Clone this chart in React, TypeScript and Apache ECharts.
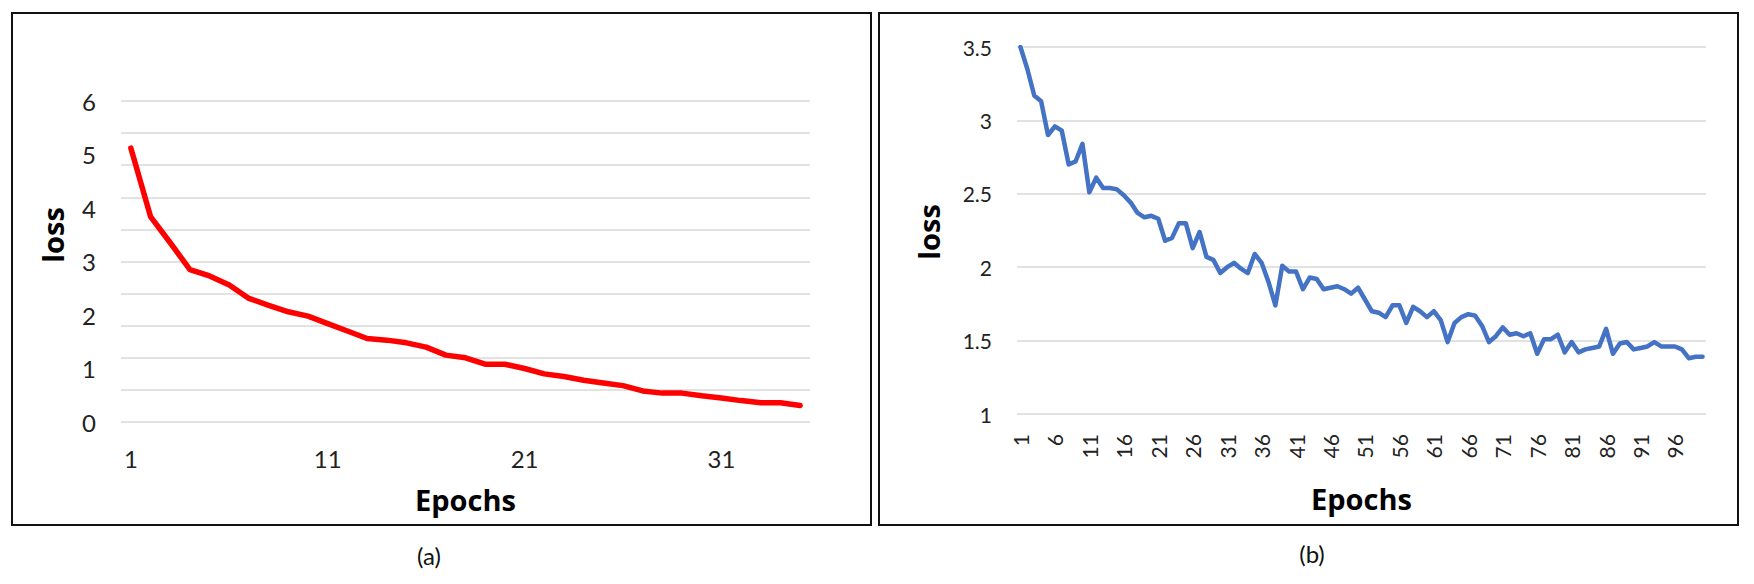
import React, { useEffect, useRef } from "react";
import * as echarts from "echarts";

const epochsA: string[] = Array.from({ length: 35 }, (_, i) => String(i + 1));
const lossA: number[] = [
  5.12, 3.84, 3.35, 2.85, 2.73, 2.56, 2.31, 2.18, 2.06, 1.98,
  1.84, 1.7, 1.56, 1.53, 1.48, 1.4, 1.25, 1.2, 1.08, 1.08,
  1.0, 0.9, 0.85, 0.78, 0.73, 0.68, 0.58, 0.54, 0.54, 0.49,
  0.45, 0.4, 0.36, 0.36, 0.31,
];

const epochsB: string[] = Array.from({ length: 100 }, (_, i) => String(i + 1));
const lossB: number[] = [
  3.5, 3.35, 3.17, 3.13, 2.9, 2.96, 2.93, 2.7, 2.72, 2.84,
  2.51, 2.61, 2.54, 2.54, 2.53, 2.49, 2.44, 2.37, 2.34, 2.35,
  2.33, 2.18, 2.2, 2.3, 2.3, 2.13, 2.24, 2.07, 2.05, 1.96,
  2.0, 2.03, 1.99, 1.96, 2.09, 2.03, 1.9, 1.74, 2.01, 1.97,
  1.97, 1.85, 1.93, 1.92, 1.85, 1.86, 1.87, 1.85, 1.82, 1.86,
  1.78, 1.7, 1.69, 1.66, 1.74, 1.74, 1.62, 1.73, 1.7, 1.66,
  1.7, 1.64, 1.49, 1.62, 1.66, 1.68, 1.67, 1.6, 1.49, 1.53,
  1.59, 1.54, 1.55, 1.53, 1.55, 1.41, 1.51, 1.51, 1.54, 1.42,
  1.49, 1.42, 1.44, 1.45, 1.46, 1.58, 1.41, 1.48, 1.49, 1.44,
  1.45, 1.46, 1.49, 1.46, 1.46, 1.46, 1.44, 1.38, 1.39, 1.39,
];

const FONT = "Lato, 'Open Sans', sans-serif";
const TITLE_FONT = "'Open Sans', Lato, sans-serif";
const GRID_COLOR = "#d9d9d9";
const LABEL_COLOR = "#222";

export default function App() {
  const ref = useRef<HTMLDivElement>(null);

  useEffect(() => {
    if (!ref.current) return;
    const chart = echarts.init(ref.current, undefined, { renderer: "svg" });
    const titleStyle = {
      fontSize: 29,
      fontWeight: "bold",
      fontFamily: TITLE_FONT,
      color: "#000",
      verticalAlign: "middle",
    };
    const option: any = {
      animation: false,
      backgroundColor: "#fff",
      grid: [
        { left: 121, top: 101, width: 689, height: 321, containLabel: false },
        { left: 1017, top: 47, width: 689, height: 367, containLabel: false },
      ],
      xAxis: [
        {
          type: "category",
          gridIndex: 0,
          data: epochsA,
          boundaryGap: true,
          axisLine: { show: false },
          axisTick: { show: false },
          axisLabel: {
            interval: 9,
            margin: 24,
            fontSize: 24,
            fontFamily: FONT,
            color: LABEL_COLOR,
          },
          name: "Epochs",
          nameLocation: "middle",
          nameGap: 77,
          nameTextStyle: titleStyle,
        },
        {
          type: "category",
          gridIndex: 1,
          data: epochsB,
          boundaryGap: true,
          axisLine: { show: false },
          axisTick: { show: false },
          axisLabel: {
            interval: 4,
            rotate: 90,
            margin: 20,
            fontSize: 21,
            fontFamily: FONT,
            color: LABEL_COLOR,
          },
          name: "Epochs",
          nameLocation: "middle",
          nameGap: 84,
          nameTextStyle: titleStyle,
        },
      ],
      yAxis: [
        {
          type: "value",
          gridIndex: 0,
          min: 0,
          max: 6,
          interval: 0.6,
          axisLine: { show: false },
          axisTick: { show: false },
          axisLabel: { show: false },
          splitLine: { show: true, lineStyle: { color: GRID_COLOR, width: 1.6 } },
        },
        {
          type: "value",
          gridIndex: 0,
          position: "left",
          offset: 0,
          min: 0,
          max: 6,
          interval: 1,
          axisLine: { show: false },
          axisTick: { show: false },
          splitLine: { show: false },
          axisLabel: {
            margin: 25,
            fontSize: 24,
            fontFamily: FONT,
            color: LABEL_COLOR,
          },
        },
        {
          type: "value",
          gridIndex: 1,
          min: 1,
          max: 3.5,
          interval: 0.5,
          axisLine: { show: false },
          axisTick: { show: false },
          splitLine: { show: true, lineStyle: { color: GRID_COLOR, width: 1.6 } },
          axisLabel: {
            margin: 25,
            fontSize: 21,
            fontFamily: FONT,
            color: LABEL_COLOR,
          },
        },
      ],
      series: [
        {
          type: "line",
          xAxisIndex: 0,
          yAxisIndex: 0,
          data: lossA,
          symbol: "none",
          lineStyle: { color: "#ff0000", width: 5.5, join: "round", cap: "round" },
          itemStyle: { color: "#ff0000" },
        },
        {
          type: "line",
          xAxisIndex: 1,
          yAxisIndex: 2,
          data: lossB,
          symbol: "none",
          lineStyle: { color: "#4472c4", width: 4.5, join: "round", cap: "round" },
          itemStyle: { color: "#4472c4" },
        },
      ],
      graphic: [
        {
          type: "rect",
          shape: { x: 12, y: 13, width: 859, height: 512 },
          style: { fill: "none", stroke: "#111", lineWidth: 2 },
          silent: true,
        },
        {
          type: "rect",
          shape: { x: 879, y: 13, width: 859, height: 512 },
          style: { fill: "none", stroke: "#111", lineWidth: 2 },
          silent: true,
        },
        {
          type: "text",
          x: 52,
          y: 235,
          rotation: Math.PI / 2,
          style: {
            text: "loss",
            fontSize: 29,
            fontWeight: "bold",
            fontFamily: TITLE_FONT,
            fill: "#000",
            align: "center",
            verticalAlign: "middle",
          },
        },
        {
          type: "text",
          x: 928,
          y: 232,
          rotation: Math.PI / 2,
          style: {
            text: "loss",
            fontSize: 29,
            fontWeight: "bold",
            fontFamily: TITLE_FONT,
            fill: "#000",
            align: "center",
            verticalAlign: "middle",
          },
        },
        {
          type: "text",
          x: 429,
          y: 555,
          style: {
            text: "(a)",
            fontSize: 24,
            fontFamily: FONT,
            fill: "#111",
            align: "center",
            verticalAlign: "middle",
          },
        },
        {
          type: "text",
          x: 1312,
          y: 553,
          style: {
            text: "(b)",
            fontSize: 24,
            fontFamily: FONT,
            fill: "#111",
            align: "center",
            verticalAlign: "middle",
          },
        },
      ],
    };
    chart.setOption(option);
    return () => chart.dispose();
  }, []);

  return (
    <div
      ref={ref}
      style={{ position: "fixed", left: 0, top: 0, width: 1754, height: 584 }}
    />
  );
}
